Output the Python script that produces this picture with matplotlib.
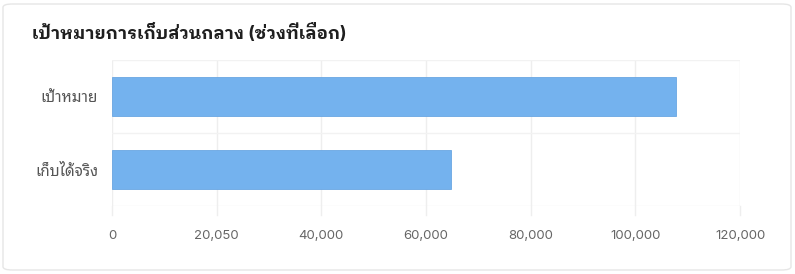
import matplotlib
matplotlib.use("Agg")
import matplotlib.pyplot as plt
from matplotlib.patches import FancyBboxPatch

categories = ["เป้าหมาย", "เก็บได้จริง"]
values = [107800, 64800]
tick_values = [0, 20000, 40000, 60000, 80000, 100000, 120000]
tick_labels = ["0", "20,050", "40,000", "60,000", "80,000", "100,000", "120,000"]
title = "เป้าหมายการเก็บส่วนกลาง (ช่วงที่เลือก)"

FONT = ["Inter", "Noto Sans Thai Looped", "DejaVu Sans"]
TITLE_FONT = ["Inter", "IBM Plex Sans Thai Looped", "Noto Sans Thai Looped", "DejaVu Sans"]
plt.rcParams["font.family"] = FONT

W, H = 795, 274
fig = plt.figure(figsize=(W / 100, H / 100), dpi=100)
fig.patch.set_facecolor("white")

card = FancyBboxPatch((3 / W, 4 / H), 788 / W, 266 / H,
                      boxstyle="round,pad=0,rounding_size=0.012",
                      transform=fig.transFigure, facecolor="white",
                      edgecolor="#e6e6e6", linewidth=1.0, zorder=-10)
fig.patches.append(card)

fig.text(32 / W, 1 - 33 / H, title, fontsize=12.6, fontweight="bold",
         color="#1f1f1f", va="center", ha="left", family=TITLE_FONT)

left, right, top, bottom = 112, 740, 60, 206
ax = fig.add_axes([left / W, 1 - bottom / H, (right - left) / W, (bottom - top) / H])
ax.set_facecolor("none")
ax.set_zorder(5)

ypos = list(range(len(categories)))
ax.barh(ypos, values, height=0.54, color="#74b2ee", edgecolor="#6aa6e2",
        linewidth=0.6, zorder=3)

ax.set_xlim(0, 120000)
ax.set_ylim(len(categories) - 0.5, -0.5)
ax.set_yticks(ypos)
ax.set_yticklabels(categories, fontsize=11, color="#555555")
ax.set_xticks(tick_values)
ax.set_xticklabels(tick_labels, fontsize=9.5, color="#666666")

for v in tick_values:
    ax.axvline(v, color="#eeeeee", lw=1.0, zorder=0)
    ax.plot([v, v], [len(categories) - 0.5, len(categories) - 0.5 + 0.13],
            color="#eeeeee", lw=1.0, clip_on=False, zorder=0)
for k in range(len(categories) + 1):
    ax.axhline(k - 0.5, color="#f2f2f2", lw=1.0, zorder=0)

for s in ax.spines.values():
    s.set_visible(False)
ax.tick_params(axis="both", length=0)
ax.tick_params(axis="y", pad=10)
ax.tick_params(axis="x", pad=17)

fig.savefig("out.png", dpi=100, facecolor="white")
